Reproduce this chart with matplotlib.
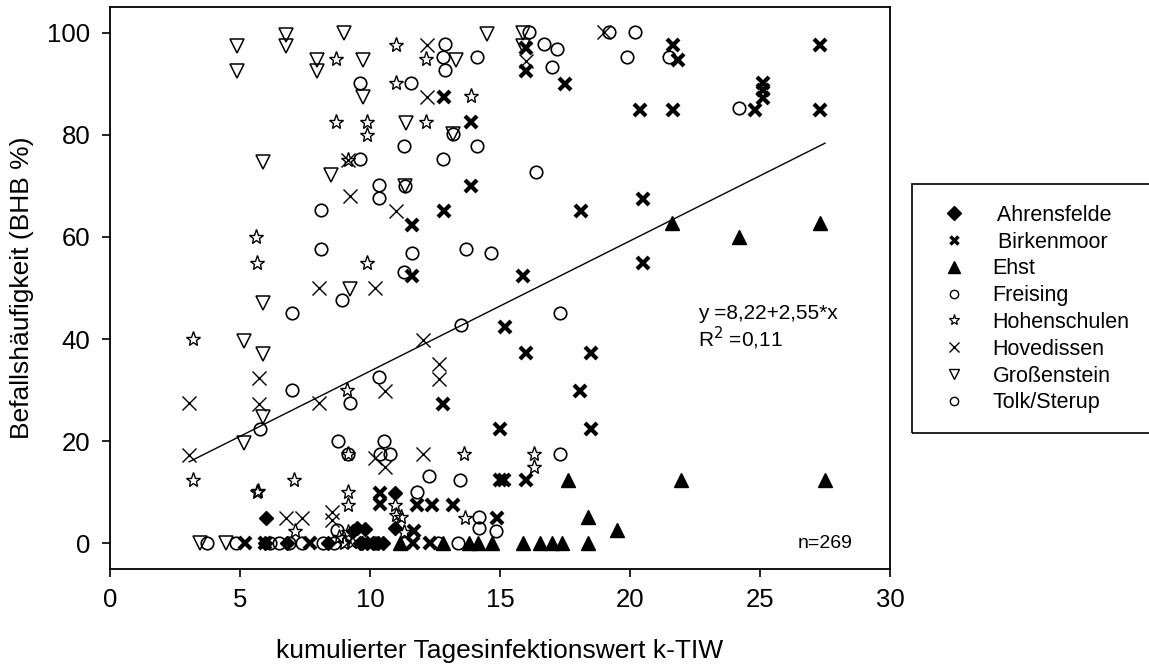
import matplotlib
matplotlib.use("Agg")
import matplotlib.pyplot as plt
import numpy as np
from matplotlib.lines import Line2D
from matplotlib.patches import Rectangle

plt.rcParams['font.family'] = ['Liberation Sans', 'DejaVu Sans']

# Befallshäufigkeit je Standort gegen k-TIW
ahrens_x = [6.0, 10.96, 10.96, 9.5, 9.8, 9.35, 5.96, 6.8, 8.4, 9.6, 9.9, 10.3, 10.5, 9.7, 10.1]
ahrens_y = [4.9, 9.8, 3.0, 3.1, 2.9, 2.5, 0, 0, 0, 0, 0, 0, 0, 0, 0]

birken_x = [16.0, 16.0, 17.5, 21.65, 21.85, 27.3, 25.1, 25.1, 25.1, 24.8, 20.4, 21.65, 27.3,
            12.85, 13.9, 13.9, 11.6, 12.85, 18.1, 20.5, 20.5, 11.6, 15.9, 15.2, 16.0, 18.5,
            18.08, 12.8, 15.0, 18.5, 15.0, 15.15, 16.0, 10.4, 10.4, 11.8, 12.4, 13.2, 14.9,
            11.7, 11.65, 12.3, 5.2, 5.96, 7.7]
birken_y = [97.0, 92.4, 90.0, 97.6, 94.7, 97.5, 90.2, 88.7, 87.2, 84.9, 84.9, 84.9, 84.9,
            87.4, 82.5, 70.0, 62.4, 65.0, 65.0, 67.4, 54.9, 52.4, 52.4, 42.3, 37.3, 37.3,
            29.8, 27.3, 22.4, 22.4, 12.4, 12.4, 12.4, 9.8, 7.8, 7.6, 7.6, 7.6, 4.9,
            2.4, 0, 0, 0, 0, 0]

ehst_x = [21.6, 24.2, 27.3, 17.6, 21.96, 27.5, 18.4, 19.5, 15.9, 16.55, 17.0, 17.4, 18.4,
          14.7, 14.15, 13.8, 12.8, 11.15]
ehst_y = [62.7, 60.0, 62.7, 12.5, 12.5, 12.5, 5.1, 2.7, 0, 0, 0, 0, 0, 0, 0, 0, 0, 0]

freising_x = [16.1, 19.2, 20.2, 12.9, 16.7, 17.2, 12.8, 14.1, 19.9, 21.5, 12.9, 17.0, 9.6,
              11.57, 24.2, 13.2, 11.3, 14.1, 9.6, 12.8, 16.4, 10.36, 10.36, 11.35, 8.1, 8.1,
              11.6, 13.7, 14.65, 11.3, 8.93]
freising_y = [100.2, 100.2, 100.2, 97.8, 97.8, 96.8, 95.3, 95.3, 95.2, 95.3, 92.7, 93.2, 90.1,
              90.2, 85.2, 80.2, 77.7, 77.7, 75.2, 75.2, 72.7, 70.1, 67.7, 69.9, 65.2, 57.6,
              56.8, 57.6, 56.8, 53.2, 47.6]

hohen_x = [11.0, 12.15, 8.7, 11.0, 13.9, 8.7, 9.87, 12.15, 9.87, 9.17, 5.6, 5.65, 9.87, 3.2,
           9.12, 9.17, 13.6, 16.3, 16.3, 3.2, 7.08, 5.65, 5.7, 9.17, 9.15, 10.96, 11.0, 11.2,
           13.65, 11.3, 7.1, 9.15, 8.8, 9.0, 9.3]
hohen_y = [97.6, 94.9, 94.9, 90.1, 87.5, 82.5, 82.5, 82.5, 80.0, 75.1, 60.0, 54.9, 54.9, 40.0,
           30.0, 17.6, 17.5, 17.5, 15.0, 12.4, 12.4, 10.0, 10.2, 10.0, 7.5, 7.5, 5.5, 5.1,
           4.9, 2.3, 2.4, 2.2, 1.2, 0, 0.3]

hoved_x = [12.18, 16.0, 19.0, 12.18, 9.17, 9.23, 11.0, 8.04, 10.2, 12.04, 12.65, 12.65, 3.04,
           5.73, 5.73, 8.04, 10.58, 3.04, 10.2, 10.58, 12.04, 6.77, 7.38, 8.54, 8.54, 9.2]
hoved_y = [97.6, 94.5, 100.2, 87.4, 75.1, 68.0, 65.0, 50.0, 50.0, 39.8, 35.1, 32.2, 27.4,
           32.4, 27.3, 27.4, 29.8, 17.3, 16.7, 15.0, 17.5, 4.9, 4.9, 6.1, 4.5, 0.5]

gross_x = [4.88, 4.88, 6.77, 6.77, 7.95, 7.95, 9.0, 9.73, 9.73, 13.3, 14.5, 15.9, 15.9, 11.4,
           13.2, 5.9, 8.5, 11.35, 9.23, 5.88, 5.16, 5.9, 5.9, 5.16, 3.46, 4.46]
gross_y = [97.4, 92.4, 99.6, 97.3, 94.7, 92.4, 100.0, 94.7, 87.3, 94.7, 99.8, 100.0, 97.3, 82.3,
           80.2, 74.7, 72.2, 69.9, 49.8, 47.1, 39.6, 37.1, 24.7, 19.6, 0, 0]

tolk_x = [7.0, 17.3, 13.5, 10.36, 7.0, 9.23, 5.77, 8.78, 10.54, 9.17, 10.38, 10.77, 17.3, 12.27,
          13.46, 11.8, 14.2, 14.2, 14.85, 8.72, 3.73, 4.85, 6.15, 6.5, 6.9, 7.38, 8.2, 8.6,
          10.2, 11.35, 12.6, 13.4]
tolk_y = [45.1, 45.1, 42.7, 32.6, 30.0, 27.5, 22.5, 20.0, 20.0, 17.6, 17.6, 17.6, 17.6, 13.3,
          12.5, 10.0, 5.1, 3.1, 2.5, 2.7, 0, 0, 0, 0, 0, 0, 0, 0,
          0, 0, 0, 0]

# Regression
intercept, slope = 8.22, 2.55

fig = plt.figure(figsize=(11.49, 6.69), dpi=100)
ax = fig.add_axes([110 / 1149, 100 / 669, 780 / 1149, 562 / 669])

k = 'black'
ax.plot(ahrens_x, ahrens_y, ls='none', marker='D', ms=7.6, mfc=k, mec=k, mew=1)
ax.plot(birken_x, birken_y, ls='none', marker='x', ms=8.3, mec=k, mew=3)
ax.plot(ehst_x, ehst_y, ls='none', marker='^', ms=10.5, mfc=k, mec=k, mew=1)
ax.plot(freising_x, freising_y, ls='none', marker='o', ms=9, mfc='none', mec=k, mew=1.2)
ax.plot(hohen_x, hohen_y, ls='none', marker='*', ms=11, mfc='none', mec=k, mew=1)
ax.plot(hoved_x, hoved_y, ls='none', marker='x', ms=10.5, mec=k, mew=1)
ax.plot(gross_x, gross_y, ls='none', marker='v', ms=10, mfc='none', mec=k, mew=1.1)
ax.plot(tolk_x, tolk_y, ls='none', marker='o', ms=9, mfc='none', mec=k, mew=1.2)

all_x = np.concatenate([ahrens_x, birken_x, ehst_x, freising_x, hohen_x, hoved_x, gross_x, tolk_x])
xl = np.array([all_x.min(), all_x.max()])
ax.plot(xl, intercept + slope * xl, color=k, lw=1)

ax.text(22.6, 45.1, 'y =8,22+2,55*x', fontsize=15, va='center', ha='left')
ax.text(22.6, 40.2, 'R$^2$ =0,11', fontsize=15, va='center', ha='left')
ax.text(28.55, 0, 'n=269', fontsize=14, va='center', ha='right')

ax.set_xlim(0, 30)
ax.set_ylim(-5, 105)
ax.set_xticks(range(0, 31, 5))
ax.set_yticks(range(0, 101, 20))
ax.tick_params(direction='out', length=6, width=1.2, labelsize=18.5, pad=8)
for s in ax.spines.values():
    s.set_linewidth(1.3)

ax.set_xlabel('kumulierter Tagesinfektionswert k-TIW', fontsize=19, labelpad=19)
ax.set_ylabel('Befallshäufigkeit (BHB %)', fontsize=19, labelpad=10)

handles = [
    Line2D([], [], ls='none', marker='D', ms=7, mfc=k, mec=k),
    Line2D([], [], ls='none', marker='x', ms=6, mec=k, mew=2.5),
    Line2D([], [], ls='none', marker='^', ms=8, mfc=k, mec=k),
    Line2D([], [], ls='none', marker='o', ms=6, mfc='none', mec=k, mew=1),
    Line2D([], [], ls='none', marker='*', ms=8, mfc='none', mec=k, mew=0.9),
    Line2D([], [], ls='none', marker='x', ms=7, mec=k, mew=1),
    Line2D([], [], ls='none', marker='v', ms=7, mfc='none', mec=k, mew=1),
    Line2D([], [], ls='none', marker='o', ms=6, mfc='none', mec=k, mew=1),
]
labels = [' Ahrensfelde', ' Birkenmoor', 'Ehst', 'Freising', 'Hohenschulen',
          'Hovedissen', 'Großenstein', 'Tolk/Sterup']
fig.legend(handles, labels, loc='upper left', bbox_to_anchor=(930 / 1149, 1 - 194 / 669),
           frameon=False, fontsize=15.5, handlelength=1.2, handletextpad=1.2,
           labelspacing=0.27, borderpad=0)
fig.add_artist(Rectangle((912 / 1149, 1 - 433 / 669), 260 / 1149, 249 / 669,
                         transform=fig.transFigure, fill=False, ec=k, lw=1.2))

fig.savefig('out.png', dpi=100)
